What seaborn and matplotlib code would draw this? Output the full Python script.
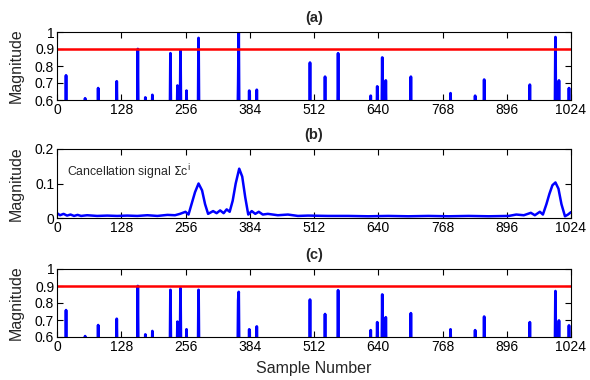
import numpy as np
import pandas as pd
import matplotlib
matplotlib.use("Agg")
import matplotlib.pyplot as plt
import seaborn as sns

# peak positions (sample index) and magnitudes
peak_pos = [18, 56, 82, 119, 161, 176, 190, 226, 240, 246, 258, 282, 361, 362,
            383, 398, 504, 534, 560, 625, 638, 648, 655, 705, 784, 833, 851,
            942, 993, 1000, 1020]
mag_a = [0.745, 0.61, 0.67, 0.71, 0.90, 0.615, 0.63, 0.875, 0.685, 0.89, 0.655,
         0.965, 0.70, 1.0, 0.655, 0.66, 0.82, 0.737, 0.875, 0.625, 0.68, 0.85,
         0.715, 0.737, 0.64, 0.625, 0.72, 0.69, 0.97, 0.715, 0.67]
mag_c = [0.758, 0.605, 0.67, 0.707, 0.90, 0.615, 0.635, 0.877, 0.69, 0.887, 0.645,
         0.877, 0.815, 0.865, 0.645, 0.662, 0.82, 0.735, 0.875, 0.64, 0.687, 0.85,
         0.716, 0.74, 0.645, 0.64, 0.72, 0.687, 0.87, 0.697, 0.668]
floor_level = 0.5  # samples between peaks sit below the visible range
threshold = 0.9

# cancellation signal, points
canc_x = [0, 6, 13, 20, 27, 34, 41, 48, 60, 80, 100, 120, 140, 160, 180, 200, 220,
          235, 245, 256, 262, 268, 275, 282, 289, 295, 301, 311, 318, 325, 332,
          338, 344, 350, 356, 363, 369, 375, 381, 388, 395, 402, 410, 420, 440,
          460, 480, 500, 540, 580, 620, 660, 700, 740, 780, 820, 860, 900, 915,
          930, 944, 952, 962, 968, 975, 981, 987, 993, 999, 1005, 1012, 1018, 1024]
canc_y = [0.014, 0.008, 0.012, 0.007, 0.010, 0.006, 0.009, 0.006, 0.008, 0.006,
          0.007, 0.006, 0.007, 0.006, 0.008, 0.006, 0.009, 0.008, 0.012, 0.018,
          0.010, 0.040, 0.075, 0.100, 0.080, 0.040, 0.012, 0.020, 0.014, 0.022,
          0.014, 0.025, 0.018, 0.050, 0.100, 0.143, 0.120, 0.060, 0.010, 0.020,
          0.012, 0.018, 0.010, 0.012, 0.008, 0.010, 0.006, 0.007, 0.006, 0.006,
          0.005, 0.006, 0.005, 0.006, 0.005, 0.006, 0.005, 0.006, 0.010, 0.008,
          0.015, 0.008, 0.018, 0.010, 0.040, 0.070, 0.095, 0.103, 0.085, 0.040,
          0.005, 0.010, 0.017]

x_ticks = [0, 128, 256, 384, 512, 640, 768, 896, 1024]

samples = np.arange(1025)
sig_a = np.full(samples.size, floor_level)
sig_a[peak_pos] = mag_a
sig_c = np.full(samples.size, floor_level)
sig_c[peak_pos] = mag_c
df_a = pd.DataFrame({"n": samples, "mag": sig_a})
df_c = pd.DataFrame({"n": samples, "mag": sig_c})
df_b = pd.DataFrame({"n": canc_x, "mag": canc_y})

sns.set_theme(style="ticks")
plt.rcParams["font.family"] = ["Liberation Sans", "DejaVu Sans"]

fig = plt.figure(figsize=(5.9, 3.8), dpi=100)
left, width = 57 / 590, 514 / 590
ax_a = fig.add_axes([left, 280 / 380, width, 68 / 380])
ax_b = fig.add_axes([left, 162 / 380, width, 69 / 380])
ax_c = fig.add_axes([left, 43 / 380, width, 68 / 380])

blue = (0, 0, 1)
for ax, df, title in [(ax_a, df_a, "(a)"), (ax_c, df_c, "(c)")]:
    sns.lineplot(data=df, x="n", y="mag", ax=ax, color=blue, linewidth=2.0)
    ax.axhline(threshold, color="red", linewidth=1.8)
    ax.set_ylim(0.6, 1.0)
    ax.set_yticks([0.6, 0.7, 0.8, 0.9, 1.0])
    ax.set_yticklabels(["0.6", "0.7", "0.8", "0.9", "1"])
    ax.set_title(title, fontsize=10.5, fontweight="bold", pad=7)

sns.lineplot(data=df_b, x="n", y="mag", ax=ax_b, color=blue, linewidth=1.8)
ax_b.set_ylim(0, 0.2)
ax_b.set_yticks([0, 0.1, 0.2])
ax_b.set_yticklabels(["0", "0.1", "0.2"])
ax_b.set_title("(b)", fontsize=10.5, fontweight="bold", pad=7)
ax_b.text(20, 0.135, r"Cancellation signal $\Sigma$c$^{\mathrm{i}}$",
          fontsize=8.8, va="center", ha="left")

for ax in (ax_a, ax_b, ax_c):
    ax.set_xlim(0, 1024)
    ax.set_xticks(x_ticks)
    ax.set_xticklabels([str(t) for t in x_ticks])
    ax.tick_params(direction="in", length=4, width=0.8, labelsize=10,
                   top=True, right=True, pad=2, colors="black")
    for s in ax.spines.values():
        s.set_visible(True)
        s.set_linewidth(0.8)
        s.set_color("black")
    ax.set_ylabel("Magnitude", fontsize=11.5, labelpad=8)
    ax.set_xlabel("")

ax_c.set_xlabel("Sample Number", fontsize=11.5, labelpad=5)

fig.savefig("out.png", dpi=100, facecolor="white")
